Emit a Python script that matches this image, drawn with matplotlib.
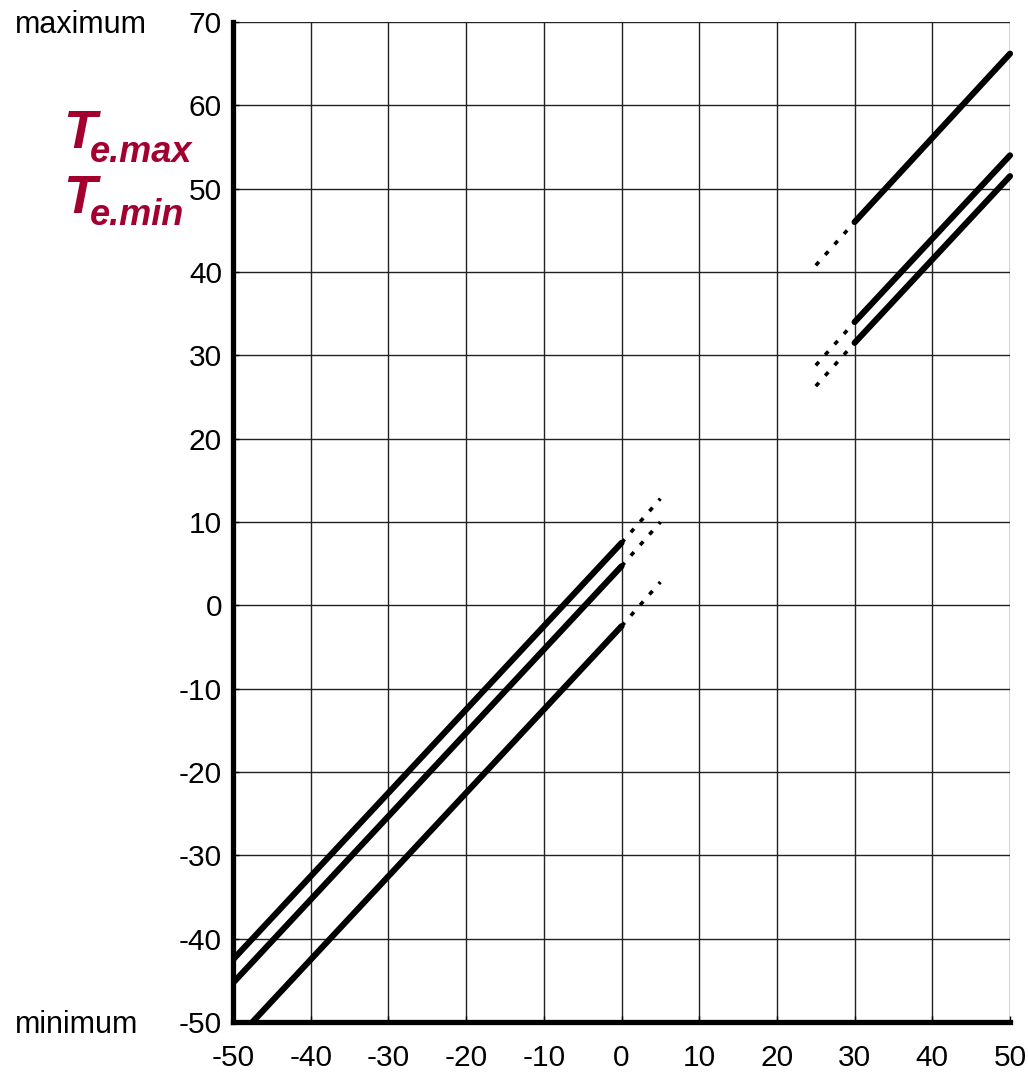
import matplotlib
matplotlib.use("Agg")
import matplotlib.pyplot as plt

plt.rcParams['font.family'] = ['Liberation Sans', 'DejaVu Sans']

# Axis ranges and ticks
x_ticks = [-50, -40, -30, -20, -10, 0, 10, 20, 30, 40, 50]
y_ticks = [-50, -40, -30, -20, -10, 0, 10, 20, 30, 40, 50, 60, 70]

# Low range: solid segments (x, y pairs)
low_x = [[-50, 0], [-50, 0], [-47.5, 0]]
low_y = [[-42.5, 7.5], [-45.3, 4.7], [-50, -2.5]]
# Low range: dotted continuation
low_ext_x = [[0, 5], [0, 5], [0, 5]]
low_ext_y = [[7.5, 12.8], [4.7, 10.0], [-2.5, 2.8]]

# High range: solid segments
high_x = [[30, 50], [30, 50], [30, 50]]
high_y = [[46.0, 66.2], [34.0, 54.0], [31.5, 51.5]]
# High range: dotted continuation
high_ext_x = [[25, 30], [25, 30], [25, 30]]
high_ext_y = [[40.8, 46.0], [28.8, 34.0], [26.3, 31.5]]

fig = plt.figure(figsize=(10.28, 10.78), dpi=100)
ax = fig.add_axes([0.2267, 0.0519, 0.7558, 0.9277])

ax.set_xlim(-50, 50)
ax.set_ylim(-50, 70)
ax.set_xticks(x_ticks)
ax.set_yticks(y_ticks)
ax.set_xticklabels([str(v) for v in x_ticks])
ax.set_yticklabels([str(v) for v in y_ticks])
ax.tick_params(axis='both', direction='in', length=4, width=1, labelsize=21.5, pad=8)
ax.tick_params(axis='x', pad=16)

ax.grid(True, color='#222222', linewidth=1.0)
ax.set_axisbelow(True)

for side in ('top', 'right'):
    ax.spines[side].set_visible(False)
for side in ('left', 'bottom'):
    ax.spines[side].set_linewidth(3.8)
    ax.spines[side].set_capstyle('projecting')

solid = dict(color='black', linewidth=4.4, solid_capstyle='round', zorder=3)
dotted = dict(color='black', linewidth=2.6, linestyle=(0, (1.3, 2.6)), zorder=3)

for xs, ys in zip(low_x, low_y):
    ax.plot(xs, ys, **solid)
for xs, ys in zip(low_ext_x, low_ext_y):
    ax.plot(xs, ys, **dotted)
for xs, ys in zip(high_x, high_y):
    ax.plot(xs, ys, **solid, clip_on=False)
for xs, ys in zip(high_ext_x, high_ext_y):
    ax.plot(xs, ys, **dotted)

# Range labels next to the extreme y ticks
fig.text(15 / 1028, 1 - 33 / 1078, 'maximum', fontsize=22, ha='left', va='baseline')
fig.text(15 / 1028, 1 - 1033 / 1078, 'minimum', fontsize=22, ha='left', va='baseline')

# Quantity labels
red = '#A30030'
fig.text(63 / 1028, 1 - 148 / 1078, 'T', fontsize=39, color=red,
         fontweight='bold', fontstyle='italic', ha='left', va='baseline')
fig.text(90 / 1028, 1 - 162 / 1078, 'e.max', fontsize=26, color=red,
         fontweight='bold', fontstyle='italic', ha='left', va='baseline')
fig.text(63 / 1028, 1 - 213 / 1078, 'T', fontsize=39, color=red,
         fontweight='bold', fontstyle='italic', ha='left', va='baseline')
fig.text(90 / 1028, 1 - 225 / 1078, 'e.min', fontsize=26, color=red,
         fontweight='bold', fontstyle='italic', ha='left', va='baseline')

fig.savefig('out.png', dpi=100, facecolor='white')
